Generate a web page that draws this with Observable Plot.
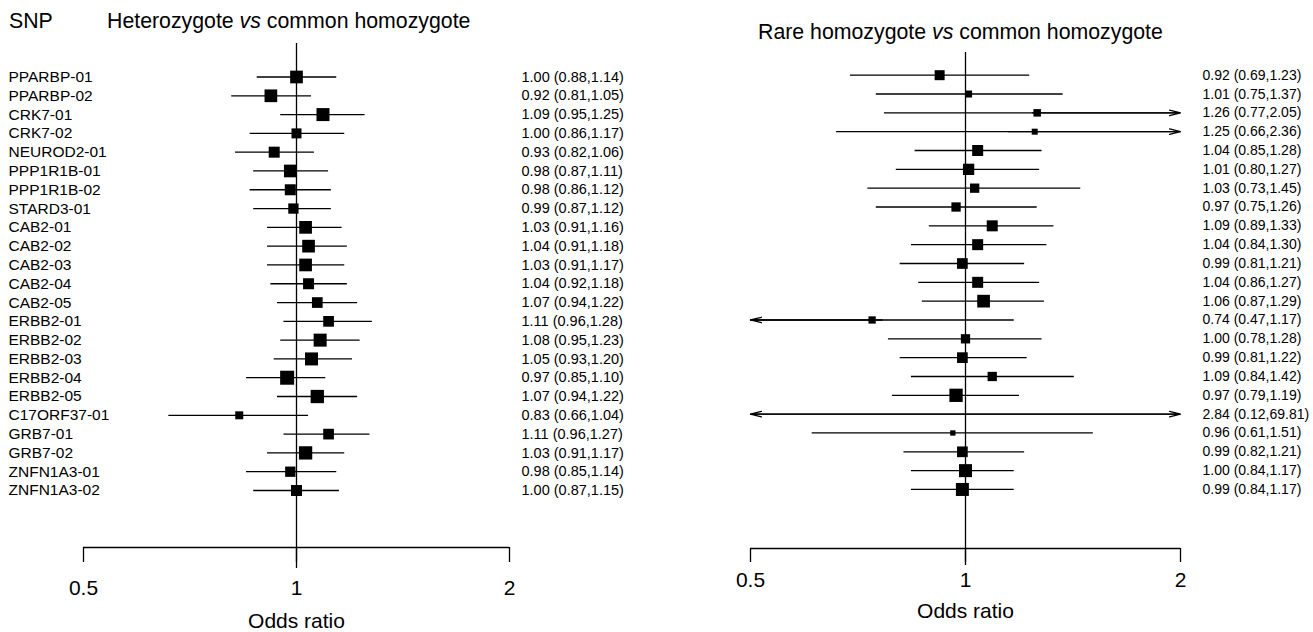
<!DOCTYPE html>
<html><head><meta charset="utf-8">
<script src="https://cdn.jsdelivr.net/npm/d3@7"></script>
<script src="https://cdn.jsdelivr.net/npm/@observablehq/plot@0.6"></script>
<style>
html,body{margin:0;padding:0;background:#fff;}
body{width:1313px;height:632px;overflow:hidden;font-family:"Liberation Sans",Arial,Helvetica,sans-serif;color:#000;}
#header{position:relative;height:40px;width:1313px;}
#header span{position:absolute;white-space:nowrap;font-size:21.3px;line-height:21.3px;}
#row{display:flex;width:1313px;}
</style></head><body>
<div id="header">
  <span style="left:9px;top:11px">SNP</span>
  <span style="left:107px;top:11px">Heterozygote <i>vs</i> common homozygote</span>
  <span style="left:758px;top:22px">Rare homozygote <i>vs</i> common homozygote</span>
</div>
<div id="row"></div>
<script>
const snps = ["PPARBP-01","PPARBP-02","CRK7-01","CRK7-02","NEUROD2-01","PPP1R1B-01","PPP1R1B-02","STARD3-01","CAB2-01","CAB2-02","CAB2-03","CAB2-04","CAB2-05","ERBB2-01","ERBB2-02","ERBB2-03","ERBB2-04","ERBB2-05","C17ORF37-01","GRB7-01","GRB7-02","ZNFN1A3-01","ZNFN1A3-02"];

const hetOR = [1.00,0.92,1.09,1.00,0.93,0.98,0.98,0.99,1.03,1.04,1.03,1.04,1.07,1.11,1.08,1.05,0.97,1.07,0.83,1.11,1.03,0.98,1.00];
const hetLo = [0.88,0.81,0.95,0.86,0.82,0.87,0.86,0.87,0.91,0.91,0.91,0.92,0.94,0.96,0.95,0.93,0.85,0.94,0.66,0.96,0.91,0.85,0.87];
const hetHi = [1.14,1.05,1.25,1.17,1.06,1.11,1.12,1.12,1.16,1.18,1.17,1.18,1.22,1.28,1.23,1.20,1.10,1.22,1.04,1.27,1.17,1.14,1.15];
const hetWeight = [12.7,12.7,13,10,11,12.7,11,10.3,12.7,12.7,12.7,11,10.7,10.7,13,13,14,13.3,8,10.7,13.3,10.3,11];

const rareOR = [0.92,1.01,1.26,1.25,1.04,1.01,1.03,0.97,1.09,1.04,0.99,1.04,1.06,0.74,1.00,0.99,1.09,0.97,2.84,0.96,0.99,1.00,0.99];
const rareLo = [0.69,0.75,0.77,0.66,0.85,0.80,0.73,0.75,0.89,0.84,0.81,0.86,0.87,0.47,0.78,0.81,0.84,0.79,0.12,0.61,0.82,0.84,0.84];
const rareHi = [1.23,1.37,2.05,2.36,1.28,1.27,1.45,1.26,1.33,1.30,1.21,1.27,1.29,1.17,1.28,1.22,1.42,1.19,69.81,1.51,1.21,1.17,1.17];
const rareWeight = [10,7,7.5,6,11,11.3,9.3,9.3,11,11,10.7,11,12.7,7.3,9.3,10.7,9.3,13.3,0,5.3,10.7,13,13];

const xTicks = [0.5, 1, 2];
const xLabel = "Odds ratio";

const LO = 0.5, HI = 2;
const clamp = v => Math.max(LO, Math.min(HI, v));
const f2 = v => v.toFixed(2);

function panel(o) {
  const rows = snps.map((snp, i) => {
    const loC = clamp(o.lo[i]), hiC = clamp(o.hi[i]);
    return {i, snp, or: o.or[i], lo: o.lo[i], hi: o.hi[i], w: o.weight[i], loC, hiC, mid: Math.sqrt(loC * hiC)};
  });
  const ink = "#000";
  return Plot.plot({
    width: o.width, height: 592,
    marginLeft: o.marginLeft, marginRight: o.marginRight,
    marginTop: o.marginTop, marginBottom: o.marginBottom,
    style: {fontFamily: '"Liberation Sans", Arial, sans-serif', fontSize: "21px", background: "white", color: "#000"},
    x: {type: "log", domain: [LO, HI]},
    y: {domain: o.yDomain, reverse: true, axis: null},
    r: {type: "identity"},
    marks: [
      Plot.ruleX([1], {stroke: ink, strokeWidth: 1.3, insetBottom: -o.centerExt}),
      Plot.ruleY([o.yDomain[1]], {stroke: ink, strokeWidth: 1.3}),
      Plot.axisX({ticks: xTicks, tickFormat: d => String(d), tickSize: o.tickSize, tickPadding: o.tickPadding, fontSize: 21, label: null, strokeWidth: 1.3}),
      Plot.ruleY(rows, {y: "i", x1: "loC", x2: "hiC", stroke: ink, strokeWidth: 1.3}),
      Plot.arrow(rows.filter(d => d.lo < LO), {x1: "mid", x2: () => LO, y1: "i", y2: "i", headLength: 13, headAngle: 28, stroke: ink, strokeWidth: 1.3}),
      Plot.arrow(rows.filter(d => d.hi > HI), {x1: "mid", x2: () => HI, y1: "i", y2: "i", headLength: 13, headAngle: 28, stroke: ink, strokeWidth: 1.3}),
      Plot.dot(rows.filter(d => d.or >= LO && d.or <= HI), {x: "or", y: "i", r: d => d.w / Math.sqrt(Math.PI), symbol: "square", fill: ink, stroke: null}),
      o.labels ? Plot.text(rows, {y: "i", text: "snp", frameAnchor: "left", textAnchor: "start", dx: 8 - o.marginLeft, fontSize: 15.5}) : null,
      Plot.text(rows, {y: "i", text: d => `${f2(d.or)} (${f2(d.lo)},${f2(d.hi)})`, frameAnchor: "right", textAnchor: "start", dx: o.valueDx, fontSize: o.valueFont}),
      Plot.text([xLabel], {frameAnchor: "bottom", dy: o.labelDy, fontSize: 21})
    ]
  });
}

const left = panel({
  or: hetOR, lo: hetLo, hi: hetHi, weight: hetWeight,
  width: 660, marginLeft: 83, marginRight: 151, marginTop: 3, marginBottom: 85,
  yDomain: [-1.782, 25.033], centerExt: 21, tickSize: 15, tickPadding: 18,
  labelDy: 80, valueDx: 12, valueFont: 14.5, labels: true
});
const right = panel({
  or: rareOR, lo: rareLo, hi: rareHi, weight: rareWeight,
  width: 653, marginLeft: 90, marginRight: 133, marginTop: 12, marginBottom: 84,
  yDomain: [-1.205, 25.135], centerExt: 17, tickSize: 14, tickPadding: 10,
  labelDy: 69, valueDx: 22, valueFont: 14, labels: false
});
const row = document.getElementById("row");
row.appendChild(left);
row.appendChild(right);
</script>
</body></html>
